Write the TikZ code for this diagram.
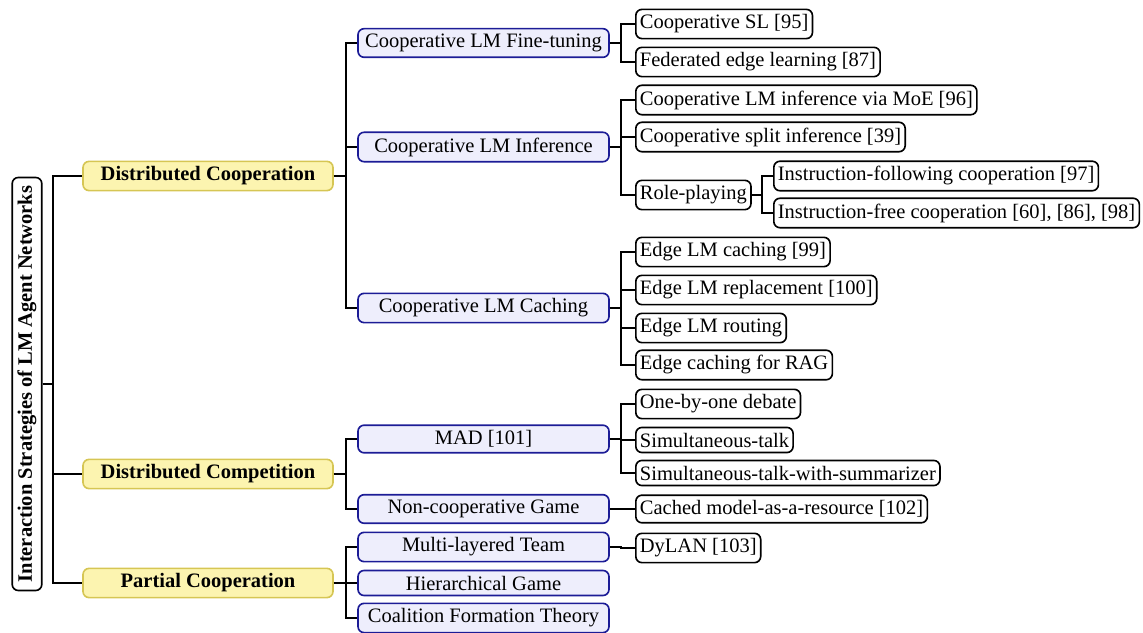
\documentclass[tikz,border=0pt]{standalone}
\usepackage{fontspec}
\setmainfont{Liberation Serif}
\usetikzlibrary{positioning}

\definecolor{catfill}{RGB}{252,244,176}
\definecolor{catdraw}{RGB}{214,198,84}
\definecolor{subfill}{RGB}{238,238,252}
\definecolor{subdraw}{RGB}{28,28,150}

\begin{document}
\begin{tikzpicture}[x=0.488pt, y=-0.488pt, line width=0.9pt,
	every node/.style={draw, line width=0.8pt, rounded corners=3pt, inner xsep=2pt, inner ysep=2.6pt, font=\normalsize},
	rootbox/.style={rotate=90, font=\bfseries, inner xsep=4pt},
	catbox/.style={draw=catdraw, fill=catfill, font=\bfseries, minimum width=122pt},
	subbox/.style={draw=subdraw, fill=subfill, minimum width=122.5pt},
	leafbox/.style={anchor=west}]
		\useasboundingbox (0,0) rectangle (1143,633);
		
		\node [rootbox] (root) at (27,384) {Interaction Strategies of LM Agent Networks};
		
		\node [catbox] (coop) at (208,176) {Distributed Cooperation};
		\node [catbox] (comp) at (208,474) {Distributed Competition};
		\node [catbox] (part) at (208,583) {Partial Cooperation};
		
		\node [subbox] (fine) at (483.5,43) {Cooperative LM Fine-tuning};
		\node [subbox] (infer) at (483.5,147) {Cooperative LM Inference};
		\node [subbox] (cache) at (483.5,308) {Cooperative LM Caching};
		\node [subbox] (mad) at (483.5,439) {MAD [101]};
		\node [subbox] (noncoop) at (483.5,509) {Non-cooperative Game};
		\node [subbox] (team) at (483.5,547) {Multi-layered Team};
		\node [subbox] (hier) at (483.5,583) {Hierarchical Game};
		\node [subbox] (coal) at (483.5,618) {Coalition Formation Theory};
		
		\node [leafbox] (sl) at (635,24) {Cooperative SL [95]};
		\node [leafbox] (fel) at (635,62) {Federated edge learning [87]};
		\node [leafbox] (moe) at (635,100) {Cooperative LM inference via MoE [96]};
		\node [leafbox] (split) at (635,137) {Cooperative split inference [39]};
		\node [leafbox] (role) at (635,195) {Role-playing};
		\node [leafbox] (follow) at (773,176) {Instruction-following cooperation [97]};
		\node [leafbox] (free) at (773,213) {Instruction-free cooperation [60], [86], [98]};
		\node [leafbox] (ecache) at (635,252) {Edge LM caching [99]};
		\node [leafbox] (erepl) at (635,290) {Edge LM replacement [100]};
		\node [leafbox] (eroute) at (635,328) {Edge LM routing};
		\node [leafbox] (erag) at (635,365) {Edge caching for RAG};
		\node [leafbox] (onebyone) at (635,404) {One-by-one debate};
		\node [leafbox] (simtalk) at (635,440) {Simultaneous-talk};
		\node [leafbox] (simsum) at (635,473) {Simultaneous-talk-with-summarizer};
		\node [leafbox] (cached) at (635,509) {Cached model-as-a-resource [102]};
		\node [leafbox] (dylan) at (635,548) {DyLAN [103]};
		
		\draw (root.south) -- ++(10,0) |- (coop.west);
		\draw (root.south) -- ++(10,0) |- (comp.west);
		\draw (root.south) -- ++(10,0) |- (part.west);
		
		\draw (coop.east) -- ++(12,0) |- (fine.west);
		\draw (coop.east) -- ++(12,0) |- (infer.west);
		\draw (coop.east) -- ++(12,0) |- (cache.west);
		\draw (comp.east) -- ++(12,0) |- (mad.west);
		\draw (comp.east) -- ++(12,0) |- (noncoop.west);
		\draw (part.east) -- ++(12,0) |- (team.west);
		\draw (part.east) -- ++(12,0) |- (hier.west);
		\draw (part.east) -- ++(12,0) |- (coal.west);
		
		\draw (fine.east) -- ++(11,0) |- (sl.west);
		\draw (fine.east) -- ++(11,0) |- (fel.west);
		\draw (infer.east) -- ++(11,0) |- (moe.west);
		\draw (infer.east) -- ++(11,0) |- (split.west);
		\draw (infer.east) -- ++(11,0) |- (role.west);
		\draw (role.east) -- ++(10,0) |- (follow.west);
		\draw (role.east) -- ++(10,0) |- (free.west);
		\draw (cache.east) -- ++(11,0) |- (ecache.west);
		\draw (cache.east) -- ++(11,0) |- (erepl.west);
		\draw (cache.east) -- ++(11,0) |- (eroute.west);
		\draw (cache.east) -- ++(11,0) |- (erag.west);
		\draw (mad.east) -- ++(11,0) |- (onebyone.west);
		\draw (mad.east) -- ++(11,0) |- (simtalk.west);
		\draw (mad.east) -- ++(11,0) |- (simsum.west);
		\draw (noncoop.east) -- ++(11,0) |- (cached.west);
		\draw (team.east) -- ++(11,0) |- (dylan.west);
		
	\end{tikzpicture}
\end{document}
